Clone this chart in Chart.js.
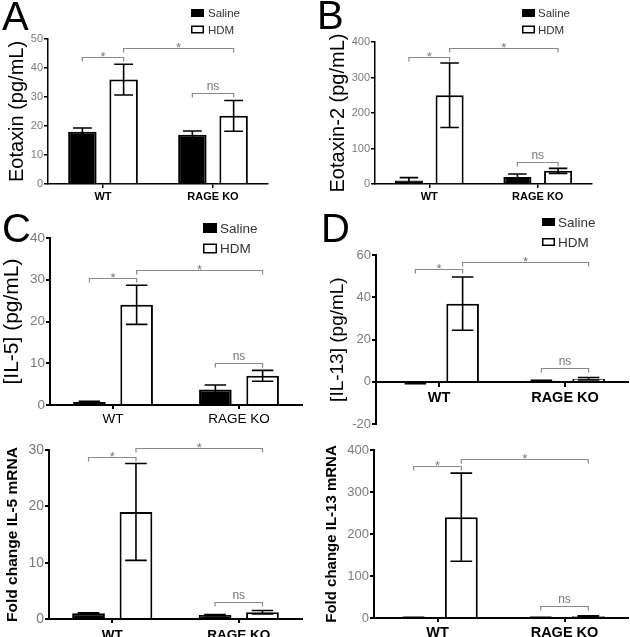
<!DOCTYPE html>
<html>
<head>
<meta charset="utf-8">
<script src="https://cdn.jsdelivr.net/npm/chart.js@4.4.0/dist/chart.umd.min.js"></script>
<style>
  body { margin: 0; background: #fff; width: 630px; height: 637px; position: relative; overflow: hidden; }
  canvas { position: absolute; }
</style>
</head>
<body>
<script>
// Datos de cada panel (media y error)
const categories = ["WT", "RAGE KO"];
const seriesNames = ["Saline", "HDM"];

// A - Eotaxin
const eotaxinSaline = [18, 17];
const eotaxinSalineErr = [1.3, 1.3];
const eotaxinHdm = [36, 23.5];
const eotaxinHdmErr = [5.3, 5.3];
const eotaxinBrackets = [43.8, 46.9, 31.4];

// B - Eotaxin-2
const eotaxin2Saline = [10, 20];
const eotaxin2SalineErr = [8, 8];
const eotaxin2Hdm = [250, 37];
const eotaxin2HdmErr = [91, 7];
const eotaxin2Brackets = [358, 383, 62];

// C - IL-5 proteína
const il5Saline = [0.7, 3.7];
const il5SalineErr = [0.2, 1.1];
const il5Hdm = [24, 7];
const il5HdmErr = [4.7, 1.3];
const il5Brackets = [30.4, 32.3, 10.1];

// D - IL-13 proteína
const il13Saline = [-0.5, 0.5];
const il13SalineErr = [0.3, 0.3];
const il13Hdm = [37, 1.5];
const il13HdmErr = [12.6, 0.6];
const il13Brackets = [53.3, 56.7, 6.7];

// IL-5 mRNA
const il5MrnaSaline = [1.0, 0.7];
const il5MrnaSalineErr = [0.1, 0.1];
const il5MrnaHdm = [19, 1.2];
const il5MrnaHdmErr = [8.6, 0.3];
const il5MrnaBrackets = [28.8, 30.4, 3.0];

// IL-13 mRNA
const il13MrnaSaline = [1, 1];
const il13MrnaSalineErr = [0.5, 0.5];
const il13MrnaHdm = [240, 4];
const il13MrnaHdmErr = [105, 1.5];
const il13MrnaBrackets = [362, 378, 28.6];

// pares de barras [dataset, categoría] y etiquetas
const bracketPairs = [[[0, 0], [1, 0]], [[1, 0], [1, 1]], [[0, 1], [1, 1]]];
const bracketLabels = ["*", "*", "ns"];

Chart.defaults.font.family = "'Liberation Sans', Arial, sans-serif";

const decor = {
  id: "decor",
  afterDatasetsDraw(chart, args, o) {
    const ctx = chart.ctx;
    const y = chart.scales.y;
    ctx.save();

    // barras de error
    chart.data.datasets.forEach((ds, i) => {
      chart.getDatasetMeta(i).data.forEach((bar, j) => {
        const e = ds.errors[j];
        const top = y.getPixelForValue(ds.data[j] + e);
        const bot = y.getPixelForValue(ds.data[j] - e);
        const half = (bar.width * o.capRatio) / 2;
        ctx.strokeStyle = "#000";
        ctx.lineWidth = o.errWidth;
        ctx.beginPath();
        ctx.moveTo(bar.x, top); ctx.lineTo(bar.x, bot);
        ctx.moveTo(bar.x - half, top); ctx.lineTo(bar.x + half, top);
        ctx.moveTo(bar.x - half, bot); ctx.lineTo(bar.x + half, bot);
        ctx.stroke();
      });
    });

    // corchetes de significancia
    ctx.strokeStyle = "#8a8a8a";
    ctx.fillStyle = "#777";
    ctx.lineWidth = 1.2;
    ctx.textAlign = "center";
    bracketPairs.forEach((pair, k) => {
      const x1 = chart.getDatasetMeta(pair[0][0]).data[pair[0][1]].x;
      const x2 = chart.getDatasetMeta(pair[1][0]).data[pair[1][1]].x;
      const yy = Math.round(y.getPixelForValue(o.brackets[k])) + 0.5;
      ctx.beginPath();
      ctx.moveTo(x1, yy + 4); ctx.lineTo(x1, yy); ctx.lineTo(x2, yy); ctx.lineTo(x2, yy + 4);
      ctx.stroke();
      const lab = bracketLabels[k];
      ctx.textBaseline = "alphabetic";
      if (lab === "*") {
        ctx.font = o.starSize + "px 'Liberation Sans', Arial, sans-serif";
        ctx.fillText(lab, (x1 + x2) / 2, yy + o.starSize * 0.25);
      } else {
        ctx.font = o.nsSize + "px 'Liberation Sans', Arial, sans-serif";
        ctx.fillText(lab, (x1 + x2) / 2, yy - 4);
      }
    });

    // leyenda
    const lg = o.legend;
    if (lg) {
      ctx.textAlign = "left";
      ctx.textBaseline = "middle";
      ctx.font = lg.size + "px 'Liberation Sans', Arial, sans-serif";
      chart.data.datasets.forEach((ds, i) => {
        const cy = lg.y + i * lg.gap;
        ctx.fillStyle = ds.backgroundColor;
        ctx.fillRect(lg.x, cy - lg.h / 2, lg.w, lg.h);
        ctx.strokeStyle = "#000";
        ctx.lineWidth = 1.5;
        ctx.strokeRect(lg.x + 0.75, cy - lg.h / 2 + 0.75, lg.w - 1.5, lg.h - 1.5);
        ctx.fillStyle = "#333";
        ctx.fillText(ds.label, lg.textX, cy + 1);
      });
    }

    // letra del panel
    if (o.letter) {
      ctx.fillStyle = "#000";
      ctx.textAlign = "left";
      ctx.textBaseline = "alphabetic";
      ctx.font = "40px 'Liberation Sans', Arial, sans-serif";
      ctx.fillText(o.letter.text, o.letter.x, o.letter.y);
    }
    ctx.restore();
  },
};

function panel(p) {
  const cv = document.createElement("canvas");
  cv.width = p.box[2];
  cv.height = p.box[3];
  cv.style.left = p.box[0] + "px";
  cv.style.top = p.box[1] + "px";
  document.body.appendChild(cv);

  const yWidth = p.area[0] - p.box[0];
  const xHeight = p.box[1] + p.box[3] - p.area[3];

  new Chart(cv, {
    type: "bar",
    data: {
      labels: categories,
      datasets: [
        { label: seriesNames[0], data: p.saline, errors: p.salineErr, backgroundColor: "#000", borderColor: "#000", borderWidth: 2 },
        { label: seriesNames[1], data: p.hdm, errors: p.hdmErr, backgroundColor: "#fff", borderColor: "#000", borderWidth: 2 },
      ],
    },
    options: {
      responsive: false,
      animation: false,
      layout: {
        padding: { left: 0, bottom: 0, top: p.area[1] - p.box[1], right: p.box[0] + p.box[2] - p.area[2] },
      },
      datasets: { bar: { categoryPercentage: 0.75, barPercentage: 0.69 } },
      plugins: {
        legend: { display: false },
        tooltip: { enabled: false },
        decor: {
          brackets: p.brackets,
          capRatio: 0.66,
          errWidth: 1.6,
          starSize: 13,
          nsSize: 12,
          legend: p.legend,
          letter: p.letter,
        },
      },
      scales: {
        x: {
          position: p.xAt !== undefined ? { y: p.xAt } : "bottom",
          grid: { display: true, offset: false, drawOnChartArea: false, tickLength: 4, color: "#000", lineWidth: p.axisW },
          border: { display: true, color: "#000", width: p.axisW },
          ticks: { color: "#000", padding: p.xPad, font: { size: p.xSize, weight: p.xBold ? "bold" : "normal" } },
          afterFit: (s) => { s.height = xHeight; },
        },
        y: {
          min: p.min,
          max: p.max,
          grid: { display: true, drawOnChartArea: false, tickLength: 4, color: "#000", lineWidth: p.axisW },
          border: { display: true, color: "#000", width: p.axisW },
          ticks: { stepSize: p.step, color: "#7a7a7a", padding: 1, font: { size: p.ySize } },
          title: {
            display: true,
            text: p.title,
            color: "#000",
            padding: { top: p.titlePad, bottom: 0 },
            font: { size: p.titleSize, weight: p.titleBold ? "bold" : "normal" },
          },
          afterFit: (s) => { s.width = yWidth; },
        },
      },
    },
    plugins: [decor],
  });
}

panel({
  box: [0, 0, 315, 205], area: [48, 39, 268, 184],
  saline: eotaxinSaline, salineErr: eotaxinSalineErr, hdm: eotaxinHdm, hdmErr: eotaxinHdmErr,
  brackets: eotaxinBrackets, min: 0, max: 50, step: 10,
  title: "Eotaxin (pg/mL)", titleSize: 20, titlePad: 5, ySize: 11, xSize: 11, xBold: true, xPad: 2, axisW: 1.5,
  legend: { x: 191, y: 13, gap: 16.5, w: 13, h: 8, textX: 208, size: 11.5 },
  letter: { text: "A", x: 2, y: 30 },
});

panel({
  box: [315, 0, 315, 205], area: [375, 42, 592, 184],
  saline: eotaxin2Saline, salineErr: eotaxin2SalineErr, hdm: eotaxin2Hdm, hdmErr: eotaxin2HdmErr,
  brackets: eotaxin2Brackets, min: 0, max: 400, step: 100,
  title: "Eotaxin-2 (pg/mL)", titleSize: 20, titlePad: 11, ySize: 11, xSize: 11, xBold: true, xPad: 2, axisW: 1.5,
  legend: { x: 207, y: 13, gap: 16.5, w: 13, h: 8, textX: 223, size: 11.5 },
  letter: { text: "B", x: 2, y: 29 },
});

panel({
  box: [0, 205, 315, 220], area: [50, 238, 302, 405],
  saline: il5Saline, salineErr: il5SalineErr, hdm: il5Hdm, hdmErr: il5HdmErr,
  brackets: il5Brackets, min: 0, max: 40, step: 10,
  title: "[IL-5] (pg/mL)", titleSize: 21, titlePad: 0, ySize: 13.5, xSize: 13.5, xBold: false, xPad: 2, axisW: 2,
  legend: { x: 203, y: 23, gap: 20.5, w: 14, h: 10, textX: 220, size: 13.5 },
  letter: { text: "C", x: 2, y: 37 },
});

panel({
  box: [315, 205, 315, 228], area: [376, 255, 628, 423], xAt: 0,
  saline: il13Saline, salineErr: il13SalineErr, hdm: il13Hdm, hdmErr: il13HdmErr,
  brackets: il13Brackets, min: -20, max: 60, step: 20,
  title: "[IL-13] (pg/mL)", titleSize: 19, titlePad: 11, ySize: 13, xSize: 14.5, xBold: true, xPad: 3, axisW: 2,
  legend: { x: 227, y: 17, gap: 20, w: 13, h: 8, textX: 243, size: 13.5 },
  letter: { text: "D", x: 6, y: 37 },
});

panel({
  box: [0, 420, 315, 217], area: [49, 450, 302, 619],
  saline: il5MrnaSaline, salineErr: il5MrnaSalineErr, hdm: il5MrnaHdm, hdmErr: il5MrnaHdmErr,
  brackets: il5MrnaBrackets, min: 0, max: 30, step: 10,
  title: "Fold change IL-5 mRNA", titleSize: 15.5, titleBold: true, titlePad: 3, ySize: 14, xSize: 13.5, xBold: true, xPad: 4, axisW: 2,
});

panel({
  box: [315, 430, 315, 207], area: [374, 450, 628, 618],
  saline: il13MrnaSaline, salineErr: il13MrnaSalineErr, hdm: il13MrnaHdm, hdmErr: il13MrnaHdmErr,
  brackets: il13MrnaBrackets, min: 0, max: 400, step: 100,
  title: "Fold change IL-13 mRNA", titleSize: 15, titleBold: true, titlePad: 8, ySize: 13, xSize: 14.5, xBold: true, xPad: 2, axisW: 2,
});
</script>
</body>
</html>
